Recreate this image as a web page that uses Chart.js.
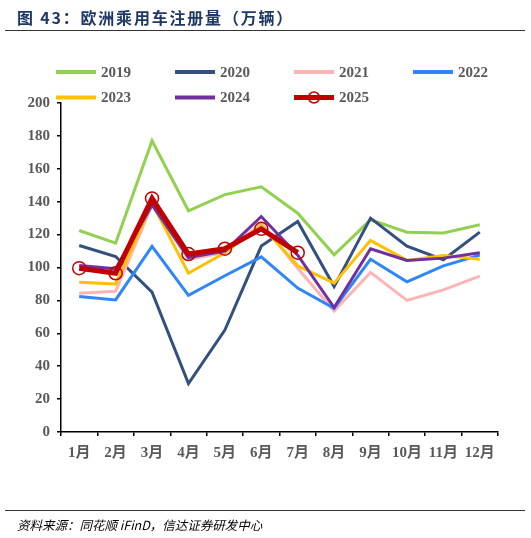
<!DOCTYPE html>
<html>
<head>
<meta charset="utf-8">
<script src="https://cdn.jsdelivr.net/npm/chart.js@4"></script>
<style>
  body { margin: 0; background: #fff; }
  #wrap { position: relative; width: 531px; height: 538px; overflow: hidden; }
  #myChart { position: absolute; left: 0; top: 0; }
  .title {
    position: absolute; left: 17px; top: 5px;
    font: bold 16px 'Noto Sans CJK SC', sans-serif; letter-spacing: 1.8px;
    color: #1F3864; white-space: nowrap;
  }
  .rule { position: absolute; left: 5px; width: 520px; height: 1px; background: #333; }
  .source {
    position: absolute; left: 17px; top: 515px;
    font: italic 12.5px 'Noto Sans CJK SC', sans-serif; color: #000; white-space: nowrap;
  }
</style>
</head>
<body>
<div id="wrap">
  <canvas id="myChart" width="531" height="538"></canvas>
  <div class="title">图 43：欧洲乘用车注册量（万辆）</div>
  <div class="rule" style="top:30px"></div>
  <div class="rule" style="top:510px"></div>
  <div class="source">资料来源：同花顺 iFinD，信达证券研发中心</div>
</div>
<script>
// months and registrations per year (10k units)
const months = ['1月', '2月', '3月', '4月', '5月', '6月', '7月', '8月', '9月', '10月', '11月', '12月'];
const years = ['2019', '2020', '2021', '2022', '2023', '2024', '2025'];

const v2019 = [122.5, 114.8, 177, 134.5, 144.3, 149, 133, 107.7, 129, 121.5, 121, 126];
const v2020 = [113.4, 106.7, 85, 29.5, 62, 113, 128, 88.4, 130, 113, 104.7, 121.5];
const v2021 = [84.3, 85.5, 138, 105, 109, 127, 99.5, 73.5, 97, 80, 86.4, 94.7];
const v2022 = [82.3, 80.3, 112.8, 83.1, 95, 106.5, 87.5, 75.2, 105, 91.3, 101, 107.5];
const v2023 = [91, 90, 139, 96.5, 109, 125.5, 101, 90.5, 116.5, 104.3, 107.3, 105];
const v2024 = [101.2, 99.2, 138, 106, 110, 131, 107.5, 75.6, 111.4, 104.3, 105.7, 109];
const v2025 = [99.6, 96.5, 142, 108.2, 111.4, 123.5, 109];

const colors = ['#92D050', '#33507E', '#FFB3B3', '#2F86F6', '#FFC000', '#7030A0', '#C00000'];
const series = [v2019, v2020, v2021, v2022, v2023, v2024, v2025];

const grayText = '#595959';
const tickFont = { family: "'Liberation Serif', 'Noto Sans CJK SC', serif", size: 15, weight: 'bold' };

const datasets = series.map((data, i) => {
    const last = i === series.length - 1;
    return {
        label: years[i],
        data: data,
        borderColor: colors[i],
        backgroundColor: colors[i],
        borderWidth: last ? 5 : 3,
        pointRadius: last ? 6.5 : 0,
        pointHoverRadius: last ? 6.5 : 0,
        pointBorderWidth: 1.5,
        pointBorderColor: colors[i],
        pointBackgroundColor: 'rgba(0,0,0,0)',
        tension: 0,
        order: series.length - 1 - i
    };
});

// legend in a 4-column grid above the plot
const gridLegend = {
    id: 'gridLegend',
    afterDraw(chart) {
        const ctx = chart.ctx;
        ctx.save();
        chart.data.datasets.forEach((ds, i) => {
            const col = i % 4, row = Math.floor(i / 4);
            const x = 56 + col * 119;
            const y = 72 + row * 25.5;
            ctx.strokeStyle = ds.borderColor;
            ctx.lineWidth = ds.borderWidth > 3 ? 5 : 4;
            ctx.beginPath();
            ctx.moveTo(x, y);
            ctx.lineTo(x + 40, y);
            ctx.stroke();
            if (ds.pointRadius > 0) {
                ctx.lineWidth = 1.5;
                ctx.beginPath();
                ctx.arc(x + 20, y, 5.5, 0, Math.PI * 2);
                ctx.stroke();
            }
            ctx.fillStyle = grayText;
            ctx.font = 'bold 15px "Liberation Serif", serif';
            ctx.textBaseline = 'middle';
            ctx.textAlign = 'left';
            ctx.fillText(ds.label, x + 45, y + 1);
        });
        ctx.restore();
    }
};

const ctx = document.getElementById('myChart').getContext('2d');
const chart = new Chart(ctx, {
    type: 'line',
    data: { labels: months, datasets: datasets },
    options: {
        responsive: false,
        animation: false,
        layout: { padding: { top: 103, right: 33, bottom: 0, left: 0 } },
        plugins: {
            legend: { display: false },
            tooltip: { enabled: false }
        },
        scales: {
            x: {
                offset: true,
                grid: { drawOnChartArea: false, offset: true, tickLength: 4, color: '#000', lineWidth: 1.5 },
                border: { color: '#000', width: 1.5 },
                ticks: { font: tickFont, color: grayText, padding: 8, maxRotation: 0, autoSkip: false },
                afterFit(scale) { scale.height = 106; }
            },
            y: {
                min: 0,
                max: 200,
                grid: { drawOnChartArea: false, tickLength: 4, color: '#000', lineWidth: 1.5 },
                border: { color: '#000', width: 1.5 },
                ticks: { stepSize: 20, font: tickFont, color: grayText, padding: 7 },
                afterFit(scale) { scale.width = 61; }
            }
        }
    },
    plugins: [gridLegend]
});
</script>
</body>
</html>
